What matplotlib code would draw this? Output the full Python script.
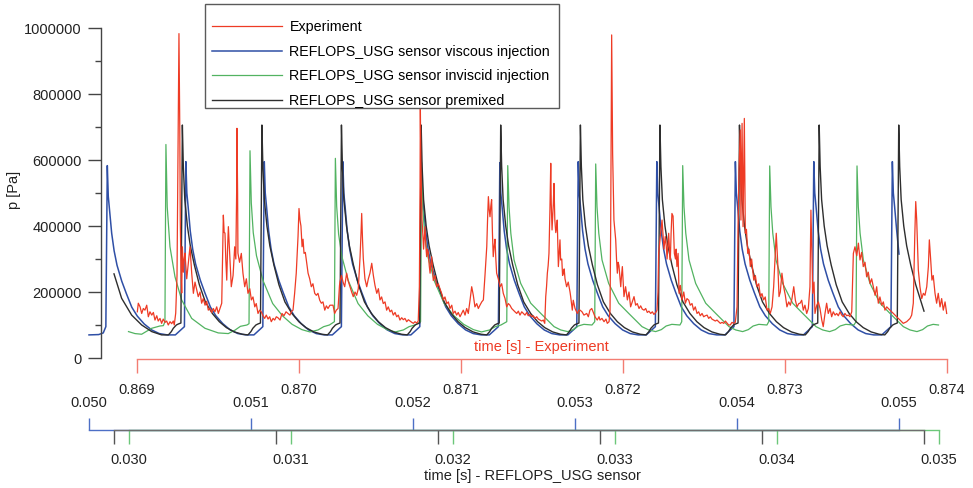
import matplotlib
matplotlib.use("Agg")
import matplotlib.pyplot as plt
from matplotlib.patches import Rectangle
from matplotlib.ticker import MultipleLocator, StrMethodFormatter

plt.rcParams.update({
    "font.family": ["Liberation Sans", "DejaVu Sans"],
    "font.size": 10.5,
    "axes.linewidth": 1.0,
})

# ── data ──────────────────────────────────────────────────────────────────────
# each trace lives on its own time base (seconds), pressure in Pa

exp_t = [
    0.869002, 0.869008, 0.869019, 0.869029, 0.869039, 0.869049, 0.869060, 0.869070, 0.869080, 0.869091,
    0.869101, 0.869111, 0.869122, 0.869131, 0.869142, 0.869152, 0.869162, 0.869173, 0.869183, 0.869193,
    0.869204, 0.869214, 0.869224, 0.869230, 0.869239, 0.869247, 0.869254, 0.869259, 0.869264, 0.869267,
    0.869272, 0.869276, 0.869280, 0.869286, 0.869291, 0.869296, 0.869307, 0.869317, 0.869327, 0.869338,
    0.869348, 0.869358, 0.869369, 0.869378, 0.869389, 0.869399, 0.869409, 0.869420, 0.869430, 0.869440,
    0.869451, 0.869461, 0.869471, 0.869481, 0.869492, 0.869502, 0.869512, 0.869523, 0.869528, 0.869533,
    0.869538, 0.869543, 0.869548, 0.869554, 0.869559, 0.869564, 0.869572, 0.869582, 0.869593, 0.869603,
    0.869610, 0.869615, 0.869617, 0.869621, 0.869623, 0.869633, 0.869644, 0.869654, 0.869665, 0.869675,
    0.869685, 0.869696, 0.869706, 0.869716, 0.869727, 0.869736, 0.869747, 0.869757, 0.869767, 0.869778,
    0.869788, 0.869798, 0.869809, 0.869819, 0.869829, 0.869840, 0.869850, 0.869860, 0.869870, 0.869883,
    0.869895, 0.869907, 0.869920, 0.869932, 0.869944, 0.869955, 0.869963, 0.869973, 0.869983, 0.869994,
    0.870000, 0.870006, 0.870012, 0.870019, 0.870025, 0.870031, 0.870039, 0.870048, 0.870056, 0.870066,
    0.870076, 0.870086, 0.870097, 0.870107, 0.870117, 0.870128, 0.870138, 0.870148, 0.870159, 0.870169,
    0.870179, 0.870191, 0.870210, 0.870220, 0.870230, 0.870241, 0.870250, 0.870253, 0.870262, 0.870272,
    0.870282, 0.870294, 0.870302, 0.870315, 0.870325, 0.870335, 0.870346, 0.870356, 0.870366, 0.870377,
    0.870383, 0.870387, 0.870392, 0.870397, 0.870402, 0.870407, 0.870418, 0.870428, 0.870438, 0.870449,
    0.870459, 0.870469, 0.870480, 0.870490, 0.870500, 0.870510, 0.870520, 0.870531, 0.870541, 0.870551,
    0.870562, 0.870572, 0.870582, 0.870593, 0.870603, 0.870613, 0.870623, 0.870634, 0.870644, 0.870654,
    0.870665, 0.870675, 0.870685, 0.870696, 0.870706, 0.870716, 0.870727, 0.870736, 0.870743, 0.870747,
    0.870749, 0.870752, 0.870755, 0.870759, 0.870764, 0.870769, 0.870773, 0.870778, 0.870783, 0.870788,
    0.870793, 0.870798, 0.870804, 0.870809, 0.870814, 0.870819, 0.870824, 0.870829, 0.870840, 0.870850,
    0.870860, 0.870870, 0.870881, 0.870891, 0.870901, 0.870912, 0.870922, 0.870932, 0.870943, 0.870952,
    0.870963, 0.870973, 0.870983, 0.870994, 0.871004, 0.871014, 0.871025, 0.871035, 0.871045, 0.871056,
    0.871066, 0.871076, 0.871086, 0.871097, 0.871107, 0.871117, 0.871128, 0.871138, 0.871148, 0.871159,
    0.871164, 0.871169, 0.871174, 0.871179, 0.871184, 0.871189, 0.871194, 0.871199, 0.871205, 0.871210,
    0.871215, 0.871220, 0.871230, 0.871241, 0.871251, 0.871261, 0.871272, 0.871282, 0.871292, 0.871302,
    0.871313, 0.871323, 0.871333, 0.871344, 0.871354, 0.871364, 0.871375, 0.871385, 0.871395, 0.871406,
    0.871415, 0.871426, 0.871436, 0.871446, 0.871457, 0.871467, 0.871477, 0.871488, 0.871498, 0.871508,
    0.871517, 0.871523, 0.871528, 0.871533, 0.871538, 0.871543, 0.871549, 0.871554, 0.871557, 0.871562,
    0.871570, 0.871574, 0.871579, 0.871585, 0.871591, 0.871594, 0.871601, 0.871606, 0.871611, 0.871615,
    0.871622, 0.871627, 0.871632, 0.871637, 0.871642, 0.871652, 0.871662, 0.871673, 0.871677, 0.871687,
    0.871693, 0.871704, 0.871718, 0.871728, 0.871735, 0.871747, 0.871759, 0.871776, 0.871786, 0.871796,
    0.871807, 0.871817, 0.871827, 0.871841, 0.871852, 0.871858, 0.871870, 0.871883, 0.871895, 0.871903,
    0.871914, 0.871920, 0.871924, 0.871930, 0.871935, 0.871936, 0.871941, 0.871944, 0.871951, 0.871955,
    0.871960, 0.871965, 0.871970, 0.871975, 0.871986, 0.871991, 0.871996, 0.872001, 0.872006, 0.872016,
    0.872027, 0.872037, 0.872047, 0.872057, 0.872068, 0.872078, 0.872088, 0.872099, 0.872109, 0.872119,
    0.872130, 0.872140, 0.872150, 0.872160, 0.872171, 0.872181, 0.872191, 0.872202, 0.872210, 0.872216,
    0.872220, 0.872225, 0.872230, 0.872235, 0.872241, 0.872249, 0.872253, 0.872261, 0.872267, 0.872272,
    0.872282, 0.872287, 0.872292, 0.872297, 0.872302, 0.872309, 0.872317, 0.872324, 0.872328, 0.872333,
    0.872340, 0.872346, 0.872354, 0.872364, 0.872375, 0.872385, 0.872395, 0.872406, 0.872415, 0.872426,
    0.872436, 0.872446, 0.872457, 0.872467, 0.872477, 0.872488, 0.872498, 0.872508, 0.872519, 0.872529,
    0.872539, 0.872549, 0.872560, 0.872570, 0.872580, 0.872591, 0.872601, 0.872611, 0.872622, 0.872632,
    0.872642, 0.872652, 0.872662, 0.872673, 0.872683, 0.872693, 0.872704, 0.872710, 0.872716, 0.872724,
    0.872728, 0.872735, 0.872741, 0.872749, 0.872755, 0.872762, 0.872770, 0.872778, 0.872786, 0.872794,
    0.872807, 0.872817, 0.872827, 0.872838, 0.872848, 0.872858, 0.872868, 0.872878, 0.872889, 0.872899,
    0.872909, 0.872920, 0.872930, 0.872940, 0.872946, 0.872955, 0.872963, 0.872971, 0.872981, 0.872992,
    0.873002, 0.873012, 0.873023, 0.873033, 0.873043, 0.873054, 0.873064, 0.873074, 0.873085, 0.873093,
    0.873103, 0.873113, 0.873123, 0.873134, 0.873144, 0.873154, 0.873160, 0.873167, 0.873171, 0.873179,
    0.873185, 0.873196, 0.873206, 0.873216, 0.873227, 0.873236, 0.873247, 0.873257, 0.873267, 0.873278,
    0.873288, 0.873298, 0.873309, 0.873319, 0.873329, 0.873340, 0.873350, 0.873360, 0.873370, 0.873381,
    0.873391, 0.873401, 0.873412, 0.873422, 0.873432, 0.873443, 0.873453, 0.873463, 0.873473, 0.873483,
    0.873494, 0.873504, 0.873514, 0.873525, 0.873535, 0.873545, 0.873556, 0.873566, 0.873576, 0.873586,
    0.873597, 0.873607, 0.873617, 0.873628, 0.873648, 0.873669, 0.873689, 0.873710, 0.873730, 0.873751,
    0.873772, 0.873782, 0.873792, 0.873801, 0.873807, 0.873813, 0.873823, 0.873833, 0.873844, 0.873854,
    0.873864, 0.873875, 0.873885, 0.873891, 0.873899, 0.873907, 0.873915, 0.873926, 0.873936, 0.873946,
    0.873957, 0.873967, 0.873977, 0.873988, 0.873998,
]
exp_p = [
    140e3, 166e3, 155e3, 135e3, 150e3, 145e3, 160e3, 125e3, 140e3, 130e3,
    138e3, 115e3, 128e3, 112e3, 120e3, 105e3, 118e3, 108e3, 112e3, 100e3,
    110e3, 104e3, 112e3, 100e3, 136e3, 250e3, 700e3, 983e3, 700e3, 418e3,
    260e3, 197e3, 337e3, 260e3, 300e3, 318e3, 240e3, 290e3, 337e3, 255e3,
    196e3, 230e3, 205e3, 186e3, 200e3, 166e3, 180e3, 160e3, 172e3, 145e3,
    150e3, 138e3, 150e3, 140e3, 155e3, 135e3, 150e3, 166e3, 300e3, 433e3,
    380e3, 379e3, 300e3, 236e3, 330e3, 398e3, 317e3, 216e3, 250e3, 337e3,
    300e3, 500e3, 696e3, 500e3, 318e3, 290e3, 317e3, 257e3, 216e3, 240e3,
    196e3, 210e3, 176e3, 185e3, 155e3, 165e3, 135e3, 145e3, 140e3, 128e3,
    120e3, 130e3, 118e3, 125e3, 110e3, 120e3, 115e3, 125e3, 122e3, 115e3,
    135e3, 128e3, 140e3, 135e3, 130e3, 142e3, 145e3, 196e3, 257e3, 368e3,
    453e3, 418e3, 400e3, 337e3, 360e3, 317e3, 320e3, 287e3, 257e3, 240e3,
    216e3, 225e3, 196e3, 190e3, 196e3, 175e3, 166e3, 170e3, 145e3, 158e3,
    150e3, 160e3, 160e3, 135e3, 145e3, 150e3, 220e3, 231e3, 250e3, 230e3,
    216e3, 257e3, 236e3, 215e3, 200e3, 186e3, 200e3, 190e3, 210e3, 307e3,
    380e3, 438e3, 360e3, 300e3, 270e3, 240e3, 216e3, 240e3, 257e3, 287e3,
    250e3, 220e3, 196e3, 210e3, 176e3, 185e3, 165e3, 170e3, 145e3, 155e3,
    140e3, 145e3, 130e3, 138e3, 125e3, 130e3, 115e3, 122e3, 116e3, 120e3,
    110e3, 116e3, 112e3, 108e3, 105e3, 110e3, 106e3, 112e3, 216e3, 500e3,
    760e3, 600e3, 529e3, 420e3, 378e3, 330e3, 360e3, 398e3, 340e3, 307e3,
    330e3, 320e3, 280e3, 257e3, 285e3, 307e3, 270e3, 235e3, 250e3, 216e3,
    225e3, 210e3, 195e3, 176e3, 185e3, 165e3, 170e3, 150e3, 160e3, 135e3,
    142e3, 130e3, 138e3, 125e3, 135e3, 145e3, 130e3, 150e3, 135e3, 176e3,
    216e3, 190e3, 155e3, 165e3, 150e3, 160e3, 170e3, 176e3, 250e3, 337e3,
    420e3, 489e3, 450e3, 428e3, 460e3, 480e3, 380e3, 307e3, 340e3, 360e3,
    300e3, 257e3, 240e3, 216e3, 225e3, 196e3, 180e3, 155e3, 165e3, 160e3,
    150e3, 145e3, 140e3, 135e3, 142e3, 130e3, 140e3, 135e3, 130e3, 138e3,
    128e3, 132e3, 125e3, 128e3, 120e3, 125e3, 118e3, 115e3, 112e3, 115e3,
    105e3, 186e3, 216e3, 257e3, 280e3, 317e3, 450e3, 590e3, 470e3, 388e3,
    469e3, 529e3, 420e3, 380e3, 398e3, 418e3, 277e3, 320e3, 358e3, 297e3,
    300e3, 250e3, 257e3, 270e3, 240e3, 216e3, 230e3, 200e3, 186e3, 145e3,
    175e3, 150e3, 135e3, 145e3, 145e3, 140e3, 130e3, 135e3, 125e3, 145e3,
    150e3, 138e3, 125e3, 115e3, 125e3, 115e3, 120e3, 110e3, 118e3, 105e3,
    110e3, 145e3, 400e3, 979e3, 700e3, 620e3, 500e3, 418e3, 380e3, 358e3,
    300e3, 257e3, 290e3, 280e3, 216e3, 250e3, 277e3, 230e3, 186e3, 216e3,
    176e3, 200e3, 155e3, 170e3, 186e3, 160e3, 165e3, 150e3, 158e3, 148e3,
    145e3, 150e3, 138e3, 142e3, 135e3, 140e3, 132e3, 138e3, 145e3, 200e3,
    317e3, 340e3, 368e3, 390e3, 418e3, 360e3, 330e3, 368e3, 340e3, 300e3,
    378e3, 330e3, 297e3, 380e3, 438e3, 430e3, 317e3, 300e3, 330e3, 277e3,
    317e3, 196e3, 220e3, 176e3, 200e3, 166e3, 180e3, 175e3, 160e3, 165e3,
    145e3, 155e3, 135e3, 140e3, 128e3, 135e3, 125e3, 128e3, 130e3, 120e3,
    125e3, 118e3, 115e3, 112e3, 115e3, 110e3, 105e3, 108e3, 105e3, 112e3,
    106e3, 100e3, 100e3, 108e3, 105e3, 108e3, 155e3, 398e3, 570e3, 691e3,
    418e3, 711e3, 398e3, 726e3, 378e3, 390e3, 317e3, 330e3, 277e3, 300e3,
    236e3, 250e3, 216e3, 225e3, 186e3, 195e3, 176e3, 185e3, 145e3, 150e3,
    135e3, 155e3, 216e3, 317e3, 378e3, 290e3, 186e3, 200e3, 257e3, 215e3,
    190e3, 155e3, 170e3, 160e3, 180e3, 216e3, 175e3, 155e3, 165e3, 166e3,
    175e3, 145e3, 160e3, 135e3, 150e3, 216e3, 448e3, 300e3, 196e3, 230e3,
    135e3, 160e3, 170e3, 150e3, 115e3, 95e3, 135e3, 166e3, 135e3, 150e3,
    125e3, 140e3, 130e3, 135e3, 128e3, 140e3, 130e3, 125e3, 135e3, 128e3,
    130e3, 125e3, 140e3, 317e3, 337e3, 310e3, 348e3, 297e3, 320e3, 277e3,
    290e3, 246e3, 260e3, 226e3, 240e3, 216e3, 190e3, 216e3, 166e3, 185e3,
    160e3, 170e3, 145e3, 155e3, 145e3, 135e3, 125e3, 115e3, 105e3, 110e3,
    120e3, 130e3, 166e3, 368e3, 474e3, 418e3, 267e3, 216e3, 180e3, 196e3,
    190e3, 216e3, 277e3, 358e3, 300e3, 236e3, 250e3, 196e3, 166e3, 196e3,
    155e3, 180e3, 145e3, 170e3, 135e3,
]

visc_t = [
    0.050000, 0.050060, 0.050088, 0.050104, 0.050113, 0.050119, 0.050127, 0.050140, 0.050155, 0.050173,
    0.050202, 0.050230, 0.050264, 0.050298, 0.050341, 0.050387, 0.050434, 0.050483, 0.050533, 0.050551,
    0.050573, 0.050589, 0.050598, 0.050604, 0.050612, 0.050625, 0.050640, 0.050658, 0.050687, 0.050715,
    0.050749, 0.050783, 0.050826, 0.050872, 0.050919, 0.050968, 0.051018, 0.051036, 0.051058, 0.051073,
    0.051082, 0.051088, 0.051096, 0.051109, 0.051124, 0.051142, 0.051171, 0.051199, 0.051233, 0.051267,
    0.051310, 0.051356, 0.051403, 0.051452, 0.051502, 0.051520, 0.051542, 0.051558, 0.051567, 0.051573,
    0.051581, 0.051594, 0.051609, 0.051627, 0.051656, 0.051684, 0.051718, 0.051752, 0.051795, 0.051841,
    0.051888, 0.051937, 0.051987, 0.052005, 0.052027, 0.052042, 0.052051, 0.052057, 0.052065, 0.052078,
    0.052093, 0.052111, 0.052140, 0.052168, 0.052202, 0.052236, 0.052279, 0.052325, 0.052372, 0.052421,
    0.052471, 0.052489, 0.052511, 0.052527, 0.052536, 0.052542, 0.052550, 0.052563, 0.052578, 0.052596,
    0.052625, 0.052653, 0.052687, 0.052721, 0.052764, 0.052810, 0.052857, 0.052906, 0.052956, 0.052974,
    0.052996, 0.053011, 0.053020, 0.053026, 0.053034, 0.053047, 0.053062, 0.053080, 0.053109, 0.053137,
    0.053171, 0.053205, 0.053248, 0.053294, 0.053341, 0.053390, 0.053440, 0.053458, 0.053480, 0.053496,
    0.053505, 0.053511, 0.053519, 0.053532, 0.053547, 0.053565, 0.053594, 0.053622, 0.053656, 0.053690,
    0.053733, 0.053779, 0.053826, 0.053875, 0.053925, 0.053943, 0.053965, 0.053981, 0.053990, 0.053996,
    0.054004, 0.054017, 0.054032, 0.054050, 0.054079, 0.054107, 0.054141, 0.054175, 0.054218, 0.054264,
    0.054311, 0.054360, 0.054410, 0.054428, 0.054450, 0.054465, 0.054474, 0.054480, 0.054488, 0.054501,
    0.054516, 0.054534, 0.054563, 0.054591, 0.054625, 0.054659, 0.054702, 0.054748, 0.054795, 0.054844,
    0.054894, 0.054912, 0.054934, 0.054950, 0.054959, 0.054965, 0.054973, 0.054986, 0.055000,
]
visc_p = [
    70e3, 71e3, 76e3, 95e3, 583e3, 490e3, 448e3, 378e3, 325e3, 281e3,
    233e3, 196e3, 154e3, 127e3, 103e3, 85e3, 74e3, 70e3, 70e3, 78e3,
    88e3, 95e3, 595e3, 500e3, 458e3, 385e3, 330e3, 285e3, 236e3, 198e3,
    155e3, 128e3, 104e3, 85e3, 74e3, 70e3, 70e3, 78e3, 88e3, 95e3,
    595e3, 500e3, 458e3, 385e3, 330e3, 285e3, 236e3, 198e3, 155e3, 128e3,
    104e3, 85e3, 74e3, 70e3, 70e3, 78e3, 88e3, 95e3, 595e3, 500e3,
    458e3, 385e3, 330e3, 285e3, 236e3, 198e3, 155e3, 128e3, 104e3, 85e3,
    74e3, 70e3, 70e3, 78e3, 88e3, 95e3, 595e3, 500e3, 458e3, 385e3,
    330e3, 285e3, 236e3, 198e3, 155e3, 128e3, 104e3, 85e3, 74e3, 70e3,
    70e3, 78e3, 88e3, 95e3, 592e3, 500e3, 458e3, 385e3, 330e3, 285e3,
    236e3, 198e3, 155e3, 128e3, 104e3, 85e3, 74e3, 70e3, 70e3, 78e3,
    88e3, 95e3, 595e3, 500e3, 458e3, 385e3, 330e3, 285e3, 236e3, 198e3,
    155e3, 128e3, 104e3, 85e3, 74e3, 70e3, 70e3, 78e3, 88e3, 95e3,
    595e3, 500e3, 458e3, 385e3, 330e3, 285e3, 236e3, 198e3, 155e3, 128e3,
    104e3, 85e3, 74e3, 70e3, 70e3, 78e3, 88e3, 95e3, 595e3, 500e3,
    458e3, 385e3, 330e3, 285e3, 236e3, 198e3, 155e3, 128e3, 104e3, 85e3,
    74e3, 70e3, 70e3, 78e3, 88e3, 95e3, 595e3, 500e3, 458e3, 385e3,
    330e3, 285e3, 236e3, 198e3, 155e3, 128e3, 104e3, 85e3, 74e3, 70e3,
    70e3, 78e3, 88e3, 95e3, 595e3, 500e3, 458e3, 385e3, 315e3,
]

inv_t = [
    0.030000, 0.030040, 0.030081, 0.030143, 0.030194, 0.030215, 0.030225, 0.030231, 0.030239, 0.030256,
    0.030287, 0.030328, 0.030390, 0.030472, 0.030554, 0.030616, 0.030656, 0.030691, 0.030731, 0.030744,
    0.030750, 0.030758, 0.030770, 0.030790, 0.030830, 0.030890, 0.030950, 0.031010, 0.031070, 0.031120,
    0.031170, 0.031205, 0.031240, 0.031271, 0.031277, 0.031285, 0.031297, 0.031317, 0.031357, 0.031417,
    0.031477, 0.031537, 0.031597, 0.031647, 0.031697, 0.031732, 0.031767, 0.031803, 0.031809, 0.031817,
    0.031829, 0.031849, 0.031889, 0.031949, 0.032009, 0.032069, 0.032129, 0.032179, 0.032229, 0.032264,
    0.032299, 0.032335, 0.032341, 0.032349, 0.032360, 0.032380, 0.032421, 0.032483, 0.032545, 0.032586,
    0.032627, 0.032668, 0.032711, 0.032746, 0.032776, 0.032811, 0.032861, 0.032878, 0.032884, 0.032892,
    0.032903, 0.032923, 0.032964, 0.033026, 0.033088, 0.033129, 0.033170, 0.033211, 0.033254, 0.033289,
    0.033319, 0.033354, 0.033404, 0.033415, 0.033421, 0.033429, 0.033440, 0.033460, 0.033501, 0.033563,
    0.033625, 0.033666, 0.033707, 0.033748, 0.033791, 0.033826, 0.033856, 0.033891, 0.033941, 0.033952,
    0.033958, 0.033966, 0.033977, 0.033997, 0.034038, 0.034100, 0.034162, 0.034203, 0.034244, 0.034285,
    0.034328, 0.034363, 0.034393, 0.034428, 0.034478, 0.034491, 0.034497, 0.034505, 0.034516, 0.034536,
    0.034577, 0.034639, 0.034701, 0.034742, 0.034783, 0.034824, 0.034867, 0.034902, 0.034932, 0.034967,
    0.035000,
]
inv_p = [
    80e3, 74e3, 72e3, 90e3, 97e3, 98e3, 110e3, 647e3, 458e3, 337e3,
    246e3, 176e3, 120e3, 90e3, 76e3, 74e3, 84e3, 96e3, 100e3, 104e3,
    628e3, 470e3, 380e3, 310e3, 235e3, 165e3, 128e3, 102e3, 86e3, 79e3,
    85e3, 95e3, 100e3, 110e3, 605e3, 460e3, 375e3, 308e3, 234e3, 165e3,
    128e3, 102e3, 86e3, 79e3, 85e3, 95e3, 100e3, 110e3, 592e3, 452e3,
    370e3, 305e3, 232e3, 165e3, 128e3, 102e3, 86e3, 79e3, 85e3, 95e3,
    100e3, 110e3, 583e3, 458e3, 378e3, 297e3, 226e3, 166e3, 135e3, 115e3,
    95e3, 85e3, 80e3, 86e3, 97e3, 102e3, 100e3, 110e3, 588e3, 458e3,
    378e3, 297e3, 226e3, 166e3, 135e3, 115e3, 95e3, 85e3, 80e3, 86e3,
    97e3, 102e3, 100e3, 110e3, 583e3, 458e3, 378e3, 297e3, 226e3, 166e3,
    135e3, 115e3, 95e3, 85e3, 80e3, 86e3, 97e3, 102e3, 100e3, 110e3,
    582e3, 458e3, 378e3, 297e3, 226e3, 166e3, 135e3, 115e3, 95e3, 85e3,
    80e3, 86e3, 97e3, 102e3, 100e3, 110e3, 582e3, 458e3, 378e3, 297e3,
    226e3, 166e3, 135e3, 115e3, 95e3, 85e3, 80e3, 86e3, 97e3, 102e3,
    100e3,
]

pre_t = [
    0.030000, 0.030047, 0.030109, 0.030171, 0.030233, 0.030294, 0.030336, 0.030354, 0.030366, 0.030385,
    0.030397, 0.030413, 0.030422, 0.030428, 0.030437, 0.030453, 0.030471, 0.030496, 0.030527, 0.030564,
    0.030607, 0.030650, 0.030694, 0.030743, 0.030792, 0.030827, 0.030845, 0.030857, 0.030876, 0.030888,
    0.030904, 0.030913, 0.030919, 0.030928, 0.030944, 0.030962, 0.030987, 0.031018, 0.031055, 0.031098,
    0.031141, 0.031185, 0.031234, 0.031283, 0.031318, 0.031336, 0.031348, 0.031367, 0.031379, 0.031395,
    0.031404, 0.031410, 0.031419, 0.031435, 0.031453, 0.031478, 0.031509, 0.031546, 0.031589, 0.031632,
    0.031676, 0.031725, 0.031774, 0.031810, 0.031828, 0.031840, 0.031859, 0.031871, 0.031887, 0.031896,
    0.031902, 0.031911, 0.031927, 0.031945, 0.031970, 0.032001, 0.032038, 0.032081, 0.032124, 0.032168,
    0.032217, 0.032266, 0.032301, 0.032319, 0.032331, 0.032350, 0.032362, 0.032378, 0.032387, 0.032393,
    0.032402, 0.032418, 0.032436, 0.032461, 0.032492, 0.032529, 0.032572, 0.032615, 0.032659, 0.032708,
    0.032757, 0.032793, 0.032811, 0.032823, 0.032842, 0.032854, 0.032870, 0.032879, 0.032885, 0.032894,
    0.032910, 0.032928, 0.032953, 0.032984, 0.033021, 0.033064, 0.033107, 0.033151, 0.033200, 0.033249,
    0.033284, 0.033302, 0.033314, 0.033333, 0.033345, 0.033361, 0.033370, 0.033376, 0.033385, 0.033401,
    0.033419, 0.033444, 0.033475, 0.033512, 0.033555, 0.033598, 0.033642, 0.033691, 0.033740, 0.033775,
    0.033793, 0.033805, 0.033824, 0.033836, 0.033852, 0.033861, 0.033867, 0.033876, 0.033892, 0.033910,
    0.033935, 0.033966, 0.034003, 0.034046, 0.034089, 0.034133, 0.034182, 0.034231, 0.034267, 0.034285,
    0.034297, 0.034316, 0.034328, 0.034344, 0.034353, 0.034359, 0.034368, 0.034384, 0.034402, 0.034427,
    0.034458, 0.034495, 0.034538, 0.034581, 0.034625, 0.034674, 0.034723, 0.034758, 0.034776, 0.034788,
    0.034807, 0.034819, 0.034835, 0.034844, 0.034850, 0.034859, 0.034875, 0.034893, 0.034918, 0.034949,
    0.035000,
]
pre_p = [
    255e3, 181e3, 130e3, 100e3, 80e3, 70e3, 70e3, 80e3, 90e3, 100e3,
    103e3, 106e3, 706e3, 580e3, 480e3, 400e3, 340e3, 282e3, 222e3, 170e3,
    135e3, 110e3, 92e3, 79e3, 72e3, 70e3, 80e3, 90e3, 100e3, 103e3,
    106e3, 706e3, 580e3, 480e3, 400e3, 340e3, 282e3, 222e3, 170e3, 135e3,
    110e3, 92e3, 79e3, 72e3, 70e3, 80e3, 90e3, 100e3, 103e3, 106e3,
    706e3, 580e3, 480e3, 400e3, 340e3, 282e3, 222e3, 170e3, 135e3, 110e3,
    92e3, 79e3, 72e3, 70e3, 80e3, 90e3, 100e3, 103e3, 106e3, 706e3,
    580e3, 480e3, 400e3, 340e3, 282e3, 222e3, 170e3, 135e3, 110e3, 92e3,
    79e3, 72e3, 70e3, 80e3, 90e3, 100e3, 103e3, 106e3, 706e3, 580e3,
    480e3, 400e3, 340e3, 282e3, 222e3, 170e3, 135e3, 110e3, 92e3, 79e3,
    72e3, 70e3, 80e3, 90e3, 100e3, 103e3, 106e3, 706e3, 580e3, 480e3,
    400e3, 340e3, 282e3, 222e3, 170e3, 135e3, 110e3, 92e3, 79e3, 72e3,
    70e3, 80e3, 90e3, 100e3, 103e3, 106e3, 706e3, 580e3, 480e3, 400e3,
    340e3, 282e3, 222e3, 170e3, 135e3, 110e3, 92e3, 79e3, 72e3, 70e3,
    80e3, 90e3, 100e3, 103e3, 106e3, 706e3, 580e3, 480e3, 400e3, 340e3,
    282e3, 222e3, 170e3, 135e3, 110e3, 92e3, 79e3, 72e3, 70e3, 80e3,
    90e3, 100e3, 103e3, 106e3, 706e3, 580e3, 480e3, 400e3, 340e3, 282e3,
    222e3, 170e3, 135e3, 110e3, 92e3, 79e3, 72e3, 70e3, 80e3, 90e3,
    100e3, 103e3, 106e3, 706e3, 580e3, 480e3, 400e3, 340e3, 282e3, 222e3,
    142e3,
]

exp_ticks = [0.869, 0.870, 0.871, 0.872, 0.873, 0.874]
visc_ticks = [0.050, 0.051, 0.052, 0.053, 0.054, 0.055]
sim_ticks = [0.030, 0.031, 0.032, 0.033, 0.034, 0.035]

labels = [
    "Experiment",
    "REFLOPS_USG sensor viscous injection",
    "REFLOPS_USG sensor inviscid injection",
    "REFLOPS_USG sensor premixed",
]

# ── colours ───────────────────────────────────────────────────────────────────
C_EXP = "#ee3b25"
C_VISC = "#2f4fa6"
C_INV = "#52b361"
C_PRE = "#2e2e2e"
C_EXP_AX = "#f37d72"
C_VISC_AX = "#4d6fc6"
C_INV_AX = "#6cc77a"
C_PRE_AX = "#6e6e6e"
C_TXT = "#222222"

# ── layout (pixels of the 973 x 488 output) ───────────────────────────────────
W, H = 973, 488
FX0, FX1 = 85, 955          # frame left / right
FY0, FY1 = 358, 28          # rows of p = 0 and p = 1e6
PX = 1 / 162000             # seconds per pixel, same on all four time bases
rect = [FX0 / W, 1 - FY0 / H, (FX1 - FX0) / W, (FY0 - FY1) / H]
SENSOR_ROW = -(430 - FY0) / (FY0 - FY1)   # sensor time axes sit at row 430


def span(t_ref, x_ref):
    """x-limits that put time t_ref at pixel column x_ref."""
    return (t_ref - (x_ref - FX0) * PX, t_ref + (FX1 - x_ref) * PX)


def bare(a, keep):
    a.patch.set_visible(False)
    for name, sp in a.spines.items():
        sp.set_visible(name in keep)
    a.set_ylim(0, 1e6)
    a.set_yticks([])


fig = plt.figure(figsize=(W / 100, H / 100), dpi=100)

# viscous injection: own time base, axis drawn above the shared line
ax_v = fig.add_axes(rect, label="viscous")
bare(ax_v, {"top"})
l_visc, = ax_v.plot(visc_t, visc_p, color=C_VISC, lw=1.1)
ax_v.set_xlim(*span(0.050, 89))
ax_v.spines["top"].set_position(("axes", SENSOR_ROW))
ax_v.spines["top"].set_bounds(0.050, 0.055)
ax_v.spines["top"].set_color(C_VISC_AX)
ax_v.xaxis.set_ticks_position("top")
ax_v.set_xticks(visc_ticks)
ax_v.xaxis.set_major_formatter(StrMethodFormatter("{x:.3f}"))
ax_v.tick_params(axis="x", direction="out", length=8.6, width=1,
                 color=C_VISC_AX, pad=6, labelcolor=C_TXT)

# inviscid injection: labelled sensor axis below the line
ax_i = fig.add_axes(rect, label="inviscid")
bare(ax_i, {"bottom"})
l_inv, = ax_i.plot(inv_t, inv_p, color=C_INV, lw=0.9)
ax_i.set_xlim(*span(0.030, 128.5))
ax_i.spines["bottom"].set_position(("axes", SENSOR_ROW))
ax_i.spines["bottom"].set_bounds(0.030, 0.035)
ax_i.spines["bottom"].set_color(C_INV_AX)
ax_i.set_xticks(sim_ticks)
ax_i.xaxis.set_major_formatter(StrMethodFormatter("{x:.3f}"))
ax_i.tick_params(axis="x", direction="out", length=10, width=1,
                 color=C_INV_AX, pad=6.5, labelcolor=C_TXT)

# premixed: unlabeled ticks on the same line
ax_p = fig.add_axes(rect, label="premixed")
bare(ax_p, {"bottom"})
l_pre, = ax_p.plot(pre_t, pre_p, color=C_PRE, lw=1.0)
ax_p.set_xlim(*span(0.030, 114))
ax_p.spines["bottom"].set_position(("axes", SENSOR_ROW))
ax_p.spines["bottom"].set_bounds(0.030, 0.035)
ax_p.spines["bottom"].set_color(C_PRE_AX)
ax_p.set_xticks(sim_ticks)
ax_p.tick_params(axis="x", direction="out", length=10, width=1,
                 color="#555555", labelbottom=False)

# experiment: carries the pressure axis and the legend, drawn on top
ax = fig.add_axes(rect, label="experiment")
ax.patch.set_visible(False)
ax.spines["top"].set_visible(False)
ax.spines["right"].set_visible(False)
l_exp, = ax.plot(exp_t, exp_p, color=C_EXP, lw=0.9)
ax.set_xlim(*span(0.869, 137))
ax.set_ylim(0, 1e6)

ax.spines["bottom"].set_position(("outward", 1))
ax.spines["bottom"].set_bounds(0.869, 0.874)
ax.spines["bottom"].set_color(C_EXP_AX)
ax.set_xticks(exp_ticks)
ax.xaxis.set_major_formatter(StrMethodFormatter("{x:.3f}"))
ax.tick_params(axis="x", direction="out", length=10, width=1,
               color=C_EXP_AX, pad=7, labelcolor=C_TXT)

ax.spines["left"].set_position(("axes", (101 - FX0) / (FX1 - FX0)))
ax.spines["left"].set_bounds(0, 1e6)
ax.spines["left"].set_color("#444444")
ax.yaxis.set_major_locator(MultipleLocator(200000))
ax.yaxis.set_minor_locator(MultipleLocator(100000))
ax.yaxis.set_major_formatter(StrMethodFormatter("{x:.0f}"))
ax.tick_params(axis="y", which="major", length=9.4, width=1,
               color="#444444", pad=4.3, labelcolor=C_TXT)
ax.tick_params(axis="y", which="minor", length=4.5, width=1, color="#444444")

# legend box: drawn by hand because the original has a deep top margin
ax.add_patch(Rectangle((205 / W, 1 - 108 / H), (559 - 205) / W, (108 - 3.5) / H,
                       transform=fig.transFigure, facecolor="white",
                       edgecolor="#5a5a5a", lw=1.0, clip_on=False, zorder=4))
ax.legend(
    [l_exp, l_visc, l_inv, l_pre], labels, fontsize=10.3,
    loc="upper left", bbox_to_anchor=(211.5 / W, 1 - 20 / H),
    bbox_transform=fig.transFigure, frameon=False, handlelength=4.9,
    handletextpad=0.55, labelspacing=0.74, borderpad=0, borderaxespad=0,
).set_zorder(5)

fig.text(541 / W, 1 - 347 / H, "time [s] - Experiment",
         color=C_EXP, ha="center", va="center")
fig.text(532 / W, 1 - 476 / H, "time [s] - REFLOPS_USG sensor",
         color=C_TXT, ha="center", va="center")
fig.text(14 / W, 1 - 190 / H, "p [Pa]", rotation=90,
         color=C_TXT, ha="center", va="center")

fig.savefig("out.png", dpi=100)
